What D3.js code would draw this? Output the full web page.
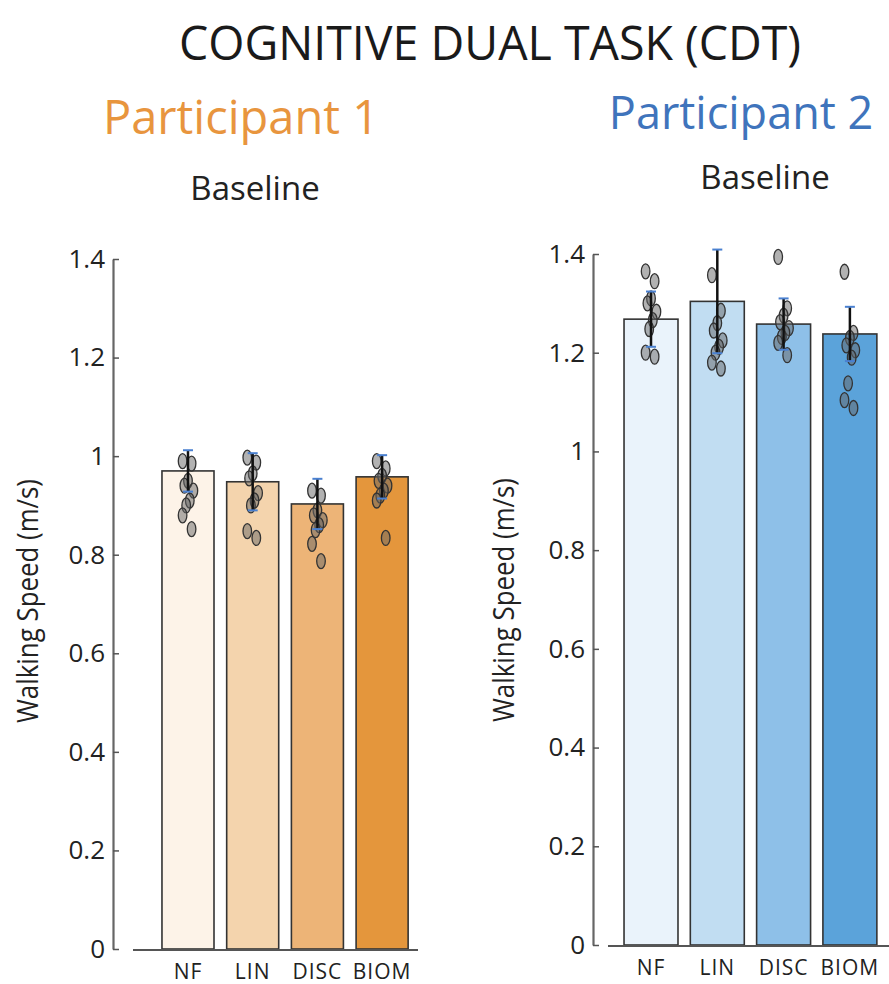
<!DOCTYPE html>
<html>
<head>
<meta charset="utf-8">
<script src="https://cdn.jsdelivr.net/npm/d3@7"></script>
<style>
  body { margin: 0; background: #fff; }
  svg { display: block; font-family: "Open Sans", sans-serif; }
</style>
</head>
<body>
<svg id="chart" width="889" height="984"></svg>
<script>
// conditions on the x axis
var conditions = ["NF", "LIN", "DISC", "BIOM"];
var yTicks = [0, 0.2, 0.4, 0.6, 0.8, 1, 1.2, 1.4];

// participant 1 - mean walking speed, error (+/-) and individual trials
var p1Means = [0.970, 0.948, 0.903, 0.958];
var p1Err = [0.042, 0.058, 0.051, 0.044];
var p1Trials = [
  [0.99, 0.985, 0.95, 0.94, 0.93, 0.91, 0.90, 0.88, 0.852],
  [0.997, 0.987, 0.965, 0.955, 0.925, 0.91, 0.90, 0.848, 0.834],
  [0.93, 0.92, 0.89, 0.88, 0.87, 0.86, 0.85, 0.822, 0.787],
  [0.99, 0.975, 0.96, 0.95, 0.94, 0.93, 0.92, 0.91, 0.834]
];
var p1Colors = ["#fdf3e8", "#f4d4ad", "#edb477", "#e4963c"];

// participant 2
var p2Means = [1.268, 1.304, 1.258, 1.238];
var p2Err = [0.056, 0.105, 0.052, 0.055];
var p2Trials = [
  [1.365, 1.345, 1.31, 1.30, 1.283, 1.266, 1.248, 1.20, 1.192],
  [1.357, 1.285, 1.26, 1.245, 1.225, 1.212, 1.20, 1.18, 1.168],
  [1.394, 1.29, 1.275, 1.262, 1.25, 1.24, 1.232, 1.22, 1.195],
  [1.364, 1.24, 1.23, 1.215, 1.205, 1.19, 1.138, 1.104, 1.088]
];
var p2Colors = ["#eaf3fb", "#c1ddf2", "#8ec0e8", "#5ba3da"];

var svg = d3.select("#chart");

svg.append("text")
  .attr("x", 490).attr("y", 60)
  .attr("text-anchor", "middle")
  .attr("font-size", 48)
  .attr("fill", "#1a1a1a")
  .attr("textLength", 622).attr("lengthAdjust", "spacingAndGlyphs")
  .text("COGNITIVE DUAL TASK (CDT)");

function drawPanel(opt) {
  var g = svg.append("g");
  var y = d3.scaleLinear().domain([0, 1.4]).range([opt.y0, opt.y1]);
  var x = d3.scaleBand().domain(conditions).range(opt.xRange)
    .paddingInner(opt.pad).paddingOuter(0.1);

  g.append("text")
    .attr("x", opt.titleX).attr("y", opt.titleY)
    .attr("text-anchor", "middle")
    .attr("font-size", opt.titleSize)
    .attr("fill", opt.titleColor)
    .text(opt.title);

  g.append("text")
    .attr("x", opt.subX).attr("y", opt.subY)
    .attr("text-anchor", "middle")
    .attr("font-size", 33)
    .attr("fill", "#222")
    .text("Baseline");

  // y axis
  var yAxis = d3.axisLeft(y).tickValues(yTicks)
    .tickSizeInner(-6).tickSizeOuter(0).tickPadding(8)
    .tickFormat(function (d) { return String(+d.toFixed(1)); });
  var ax = g.append("g")
    .attr("transform", "translate(" + opt.axisX + ",0)")
    .call(yAxis);
  ax.select(".domain").attr("stroke", "#666").attr("stroke-width", 2.2);
  ax.selectAll(".tick line").attr("stroke", "#555").attr("stroke-width", 1.5);
  ax.selectAll(".tick text").attr("font-size", 26).attr("fill", "#222")
    .attr("font-family", "Open Sans, sans-serif");

  g.append("text")
    .attr("transform", "translate(" + opt.labelX + "," + opt.labelY + ") rotate(-90)")
    .attr("text-anchor", "middle")
    .attr("font-size", 30)
    .attr("fill", "#222")
    .attr("textLength", 244).attr("lengthAdjust", "spacingAndGlyphs")
    .text("Walking Speed (m/s)");

  // bars
  g.selectAll("rect.bar").data(conditions).enter().append("rect")
    .attr("class", "bar")
    .attr("x", function (d) { return x(d); })
    .attr("width", x.bandwidth())
    .attr("y", function (d, i) { return y(opt.means[i]); })
    .attr("height", function (d, i) { return y(0) - y(opt.means[i]); })
    .attr("fill", function (d, i) { return opt.colors[i]; })
    .attr("stroke", "#333").attr("stroke-width", 1.6);

  // x baseline
  g.append("line")
    .attr("x1", opt.baseX[0]).attr("x2", opt.baseX[1])
    .attr("y1", y(0) + 1).attr("y2", y(0) + 1)
    .attr("stroke", "#555").attr("stroke-width", 2);

  g.selectAll("text.cat").data(conditions).enter().append("text")
    .attr("class", "cat")
    .attr("x", function (d) { return x(d) + x.bandwidth() / 2; })
    .attr("y", y(0) + 30)
    .attr("text-anchor", "middle")
    .attr("font-size", 21)
    .attr("letter-spacing", 1)
    .attr("fill", "#222")
    .text(function (d) { return d; });

  // individual trials
  conditions.forEach(function (c, i) {
    var cx = x(c) + x.bandwidth() / 2;
    g.selectAll(null).data(opt.trials[i]).enter().append("ellipse")
      .attr("cx", function (d, j) { return cx + ((j * 5) % 7 - 3) * 1.8; })
      .attr("cy", function (d) { return y(d); })
      .attr("rx", 4.3).attr("ry", 7.5)
      .attr("fill", "#666").attr("fill-opacity", 0.5)
      .attr("stroke", "#333").attr("stroke-width", 1.3);
  });

  // error bars
  conditions.forEach(function (c, i) {
    var cx = x(c) + x.bandwidth() / 2;
    var lo = y(opt.means[i] - opt.err[i]), hi = y(opt.means[i] + opt.err[i]);
    g.append("line").attr("x1", cx).attr("x2", cx).attr("y1", lo).attr("y2", hi)
      .attr("stroke", "#111").attr("stroke-width", 2.5);
    [lo, hi].forEach(function (yy) {
      g.append("line").attr("x1", cx - 5).attr("x2", cx + 5).attr("y1", yy).attr("y2", yy)
        .attr("stroke", "#4a80d0").attr("stroke-width", 2);
    });
  });
}

drawPanel({
  title: "Participant 1", titleColor: "#e8953e", titleX: 241, titleY: 134, titleSize: 47,
  subX: 255, subY: 200,
  means: p1Means, err: p1Err, trials: p1Trials, colors: p1Colors,
  y0: 949, y1: 259, axisX: 113, labelX: 38, labelY: 601,
  xRange: [155.5, 414.6], pad: 0.196, baseX: [133, 418]
});

drawPanel({
  title: "Participant 2", titleColor: "#3f74bc", titleX: 741, titleY: 129, titleSize: 45,
  subX: 765, subY: 189,
  means: p2Means, err: p2Err, trials: p2Trials, colors: p2Colors,
  y0: 945, y1: 254, axisX: 593, labelX: 514, labelY: 600,
  xRange: [617.4, 883.5], pad: 0.186, baseX: [608, 889]
});
</script>
</body>
</html>
